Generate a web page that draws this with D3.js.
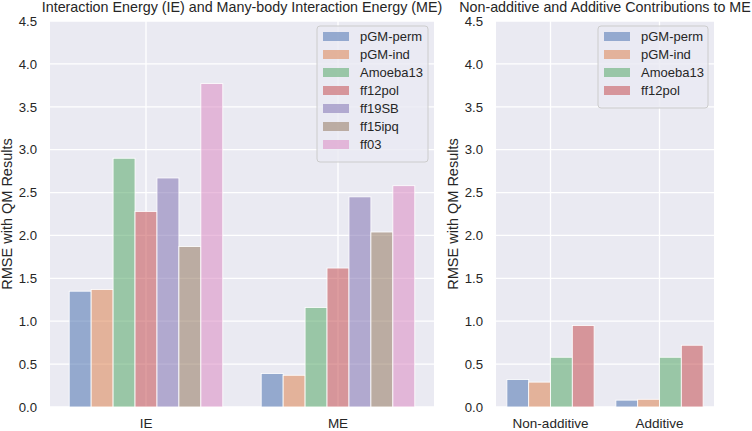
<!DOCTYPE html>
<html><head><meta charset="utf-8">
<script src="https://cdn.jsdelivr.net/npm/d3@7"></script>
<style>body{margin:0;background:#fff}svg{display:block;font-family:"Liberation Sans",Arial,sans-serif}</style>
</head><body>
<svg id="c" width="752" height="431"></svg>
<script>
const leftCategories = ["IE", "ME"];
const leftSeries = ["pGM-perm", "pGM-ind", "Amoeba13", "ff12pol", "ff19SB", "ff15ipq", "ff03"];
const leftValues = {
  "pGM-perm": [1.35, 0.39],
  "pGM-ind":  [1.37, 0.37],
  "Amoeba13": [2.90, 1.16],
  "ff12pol":  [2.28, 1.62],
  "ff19SB":   [2.67, 2.45],
  "ff15ipq":  [1.87, 2.04],
  "ff03":     [3.77, 2.58]
};
const rightCategories = ["Non-additive", "Additive"];
const rightSeries = ["pGM-perm", "pGM-ind", "Amoeba13", "ff12pol"];
const rightValues = {
  "pGM-perm": [0.32, 0.08],
  "pGM-ind":  [0.29, 0.09],
  "Amoeba13": [0.58, 0.58],
  "ff12pol":  [0.95, 0.72]
};
const yTicks = [0.0, 0.5, 1.0, 1.5, 2.0, 2.5, 3.0, 3.5, 4.0, 4.5];
const colors = {"pGM-perm":"#4C72B0","pGM-ind":"#DD8452","Amoeba13":"#55A868","ff12pol":"#C44E52","ff19SB":"#8172B3","ff15ipq":"#937860","ff03":"#DA8BC3"};
const leftTitle = "Interaction Energy (IE) and Many-body Interaction Energy (ME)";
const rightTitle = "Non-additive and Additive Contributions to ME";
const yLabel = "RMSE with QM Results";

const svg = d3.select("#c");
const textColor = "#262626";

function panel(opts) {
  const {x0, x1, y0, y1, cats, series, vals, title, legend} = opts;
  const g = svg.append("g");
  const x = d3.scaleBand().domain(cats).range([x0, x1]).paddingInner(0).paddingOuter(0);
  const y = d3.scaleLinear().domain([0, 4.5]).range([y1, y0]);
  g.append("rect").attr("x", x0).attr("y", y0).attr("width", x1 - x0).attr("height", y1 - y0).attr("fill", "#EAEAF2");
  g.selectAll(".hg").data(yTicks).join("line")
    .attr("x1", x0).attr("x2", x1).attr("y1", d => y(d)).attr("y2", d => y(d))
    .attr("stroke", "#fff").attr("stroke-width", 1.3);
  g.selectAll(".vg").data(cats).join("line")
    .attr("x1", d => x(d) + x.bandwidth()/2).attr("x2", d => x(d) + x.bandwidth()/2)
    .attr("y1", y0).attr("y2", y1).attr("stroke", "#fff").attr("stroke-width", 1.3);
  const inner = d3.scaleBand().domain(series).range([0, x.bandwidth() * 0.8]);
  const off = x.bandwidth() * 0.1;
  series.forEach(s => {
    g.selectAll(null).data(cats.map((c, i) => ({c, v: vals[s][i]}))).join("rect")
      .attr("x", d => x(d.c) + off + inner(s))
      .attr("y", d => y(d.v))
      .attr("width", inner.bandwidth())
      .attr("height", d => y(0) - y(d.v))
      .attr("fill", colors[s]).attr("fill-opacity", 0.55)
      .attr("stroke", "#fff").attr("stroke-width", 0.8);
  });
  const ya = d3.axisLeft(y).tickValues(yTicks).tickFormat(d3.format(".1f")).tickSize(0).tickPadding(13);
  const yg = g.append("g").attr("transform", `translate(${x0},0)`).call(ya);
  yg.select(".domain").remove();
  yg.selectAll("text").attr("font-size", 13.2).attr("fill", textColor).attr("font-family", "Liberation Sans, Arial, sans-serif");
  const xa = d3.axisBottom(x).tickSize(0).tickPadding(11);
  const xg = g.append("g").attr("transform", `translate(0,${y1})`).call(xa);
  xg.select(".domain").remove();
  xg.selectAll("text").attr("font-size", 13.5).attr("fill", textColor).attr("font-family", "Liberation Sans, Arial, sans-serif");
  g.append("text").attr("transform", `translate(${opts.ylabelX},${(y0 + y1) / 2}) rotate(-90)`)
    .attr("text-anchor", "middle").attr("font-size", 14.5).attr("fill", textColor).text(yLabel);
  g.append("text").attr("x", opts.titleX).attr("y", 11.5).attr("text-anchor", "middle")
    .attr("font-size", 14.3).attr("fill", textColor).text(title);
  const lg = g.append("g");
  lg.append("rect").attr("x", legend.x).attr("y", legend.y).attr("width", legend.w)
    .attr("height", 10 + series.length * 18).attr("rx", 3)
    .attr("fill", "#EAEAF2").attr("fill-opacity", 0.8).attr("stroke", "#CCCCCC").attr("stroke-width", 1);
  series.forEach((s, i) => {
    const cy = legend.y + 10 + i * 18;
    lg.append("rect").attr("x", legend.x + 6).attr("y", cy - 4).attr("width", 26).attr("height", 9)
      .attr("fill", colors[s]).attr("fill-opacity", 0.55);
    lg.append("text").attr("x", legend.x + 43).attr("y", cy + 5).attr("font-size", 13)
      .attr("fill", textColor).text(s);
  });
}

panel({x0: 50, x1: 434, y0: 21, y1: 407, cats: leftCategories, series: leftSeries, vals: leftValues,
  title: leftTitle, titleX: 242, ylabelX: 12, legend: {x: 317, y: 26, w: 111}});
panel({x0: 496, x1: 714, y0: 21, y1: 407, cats: rightCategories, series: rightSeries, vals: rightValues,
  title: rightTitle, titleX: 605, ylabelX: 458, legend: {x: 598, y: 26, w: 110}});
</script>
</body></html>
